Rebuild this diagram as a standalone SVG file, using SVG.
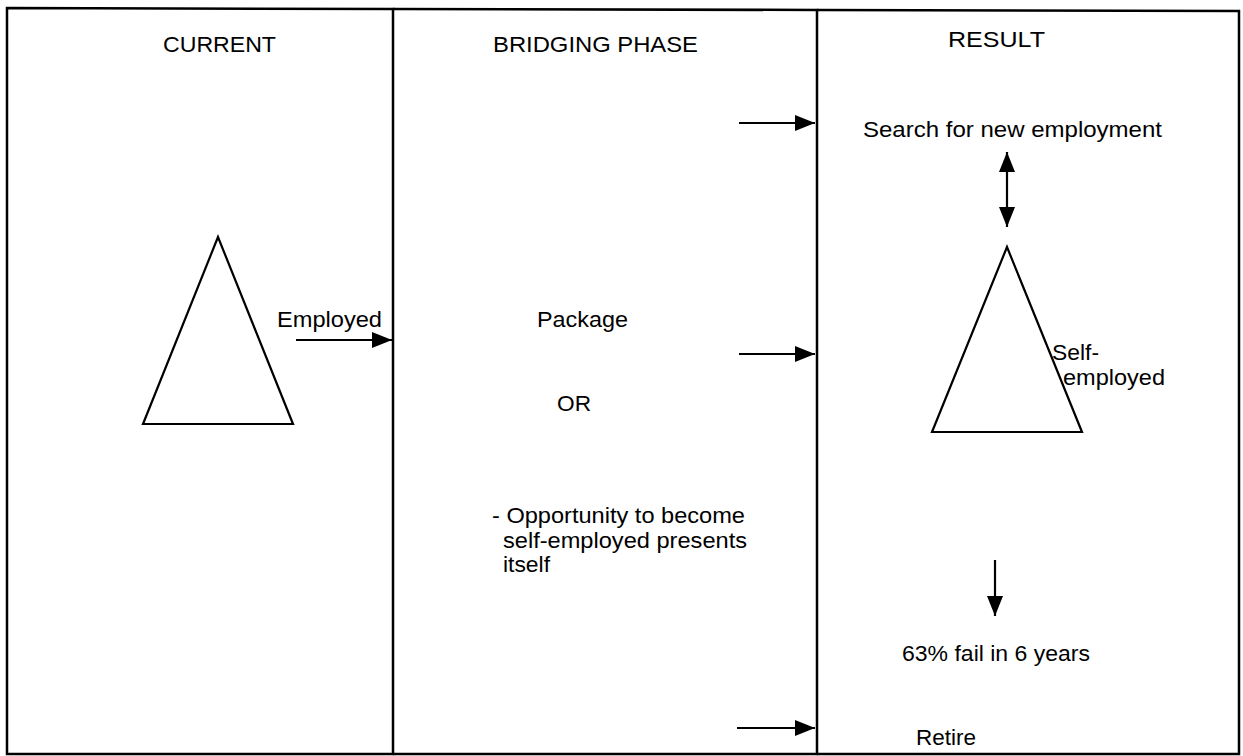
<svg xmlns="http://www.w3.org/2000/svg" width="1243" height="756" viewBox="0 0 1243 756">
<style>
.t{font-family:"Liberation Sans",Arial,sans-serif;font-size:22px;fill:#000}
.b{fill:none;stroke:#000;stroke-width:2.5}
.tri{fill:#fff;stroke:#000;stroke-width:2.2;stroke-linejoin:miter}
.c{fill:none;stroke:#000;stroke-width:2.2}
</style>
<defs>
<marker id="ah" viewBox="0 0 10 10" refX="10" refY="5" markerWidth="10" markerHeight="8" markerUnits="userSpaceOnUse" orient="auto-start-reverse" preserveAspectRatio="none">
<path d="M0,0 L10,5 L0,10 Z" fill="#000"/>
</marker>
<marker id="ah2" viewBox="0 0 10 10" refX="10" refY="5" markerWidth="20" markerHeight="16" markerUnits="userSpaceOnUse" orient="auto-start-reverse" preserveAspectRatio="none">
<path d="M0,0 L10,5 L0,10 Z" fill="#000"/>
</marker>
</defs>
<rect width="1243" height="756" fill="#fff"/>
<g id="panel-current">
<path class="b" d="M7,8 L393,9 L393,754 L7,754 Z"/>
<text class="t" x="163" y="52" textLength="113" lengthAdjust="spacingAndGlyphs">CURRENT</text>
</g>
<g id="panel-bridging">
<path class="b" d="M393,9 L817,10 L817,754 L393,754"/>
<text class="t" x="493" y="52" textLength="205" lengthAdjust="spacingAndGlyphs">BRIDGING PHASE</text>
<text class="t" x="537" y="327" textLength="91" lengthAdjust="spacingAndGlyphs">Package</text>
<text class="t" x="557" y="411" textLength="34" lengthAdjust="spacingAndGlyphs">OR</text>
<text class="t" x="492" y="523" textLength="253" lengthAdjust="spacingAndGlyphs">- Opportunity to become</text>
<text class="t" x="503" y="548" textLength="244" lengthAdjust="spacingAndGlyphs">self-employed presents</text>
<text class="t" x="503" y="572" textLength="47" lengthAdjust="spacingAndGlyphs">itself</text>
</g>
<g id="panel-result">
<path class="b" d="M817,10 L1239,11 L1239,754 L817,754"/>
<text class="t" x="948" y="47" textLength="97" lengthAdjust="spacingAndGlyphs">RESULT</text>
</g>
<g id="triangle-current">
<polygon class="tri" points="218,237 143,424 293,424"/>
</g>
<g id="label-employed">
<text class="t" x="277" y="327" textLength="105" lengthAdjust="spacingAndGlyphs">Employed</text>
</g>
<g id="node-search">
<text class="t" x="863" y="137" textLength="299" lengthAdjust="spacingAndGlyphs">Search for new employment</text>
</g>
<g id="triangle-self">
<polygon class="tri" points="1007,247 932,432 1082,432"/>
<text class="t" x="1052" y="360" textLength="47" lengthAdjust="spacingAndGlyphs">Self-</text>
<text class="t" x="1063" y="385" textLength="102" lengthAdjust="spacingAndGlyphs">employed</text>
</g>
<g id="node-fail">
<text class="t" x="902" y="661" textLength="188" lengthAdjust="spacingAndGlyphs">63% fail in 6 years</text>
</g>
<g id="node-retire">
<text class="t" x="916" y="745" textLength="60" lengthAdjust="spacingAndGlyphs">Retire</text>
</g>
<g id="connectors">
<line class="c" x1="296" y1="340" x2="392" y2="340" marker-end="url(#ah2)"/>
<line class="c" x1="739" y1="123" x2="815" y2="123" marker-end="url(#ah2)"/>
<line class="c" x1="739" y1="354" x2="815" y2="354" marker-end="url(#ah2)"/>
<line class="c" x1="737" y1="728" x2="815" y2="728" marker-end="url(#ah2)"/>
<line class="c" x1="1007" y1="152" x2="1007" y2="227" marker-start="url(#ah2)" marker-end="url(#ah2)"/>
<line class="c" x1="995" y1="560" x2="995" y2="616" marker-end="url(#ah2)"/>
</g>
</svg>
